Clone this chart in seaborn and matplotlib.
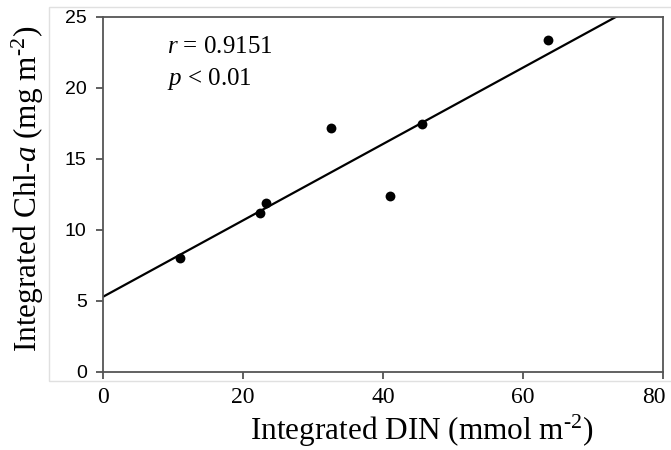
import matplotlib
matplotlib.use("Agg")
import matplotlib.pyplot as plt
import matplotlib.transforms as mtransforms
import seaborn as sns
import pandas as pd
from matplotlib.patches import Rectangle

# Data
din = [11.0, 22.4, 23.2, 32.6, 41.0, 45.6, 63.5]
chla = [8.0, 11.15, 11.86, 17.14, 12.4, 17.44, 23.34]
x_ticks = [0, 20, 40, 60, 80]
y_ticks = [0, 5, 10, 15, 20, 25]
stat_r = "0.9151"
stat_p = "0.01"

sns.set_theme(style="white")
plt.rcParams['font.family'] = ['Liberation Serif', 'DejaVu Serif']
plt.rcParams['mathtext.fontset'] = 'custom'
plt.rcParams['mathtext.rm'] = 'Liberation Serif'
plt.rcParams['mathtext.it'] = 'Liberation Serif:italic'
plt.rcParams['text.color'] = 'black'
plt.rcParams['axes.labelcolor'] = 'black'
plt.rcParams['xtick.color'] = 'black'
plt.rcParams['ytick.color'] = 'black'

df = pd.DataFrame({"DIN": din, "Chla": chla})

fig = plt.figure(figsize=(6.71, 4.5), dpi=100)
ax = fig.add_axes([0.154, 0.174, 0.834, 0.789])
ax.set_xlim(0, 80)
ax.set_ylim(0, 25)

sns.regplot(data=df, x="DIN", y="Chla", ax=ax, ci=None, truncate=False,
            scatter_kws=dict(color="black", s=50, linewidths=0, alpha=1, zorder=3),
            line_kws=dict(color="black", lw=1.6))
ax.set_xlim(0, 80)
ax.set_ylim(0, 25)

ax.set_xticks(x_ticks)
ax.set_yticks(y_ticks)
ax.set_xticklabels([str(v) for v in x_ticks], fontsize=17, family='Liberation Serif')
ax.set_yticklabels([str(v) for v in y_ticks], fontsize=14, family='Liberation Sans')
ax.tick_params(axis='both', direction='out', length=5, width=1.2,
               bottom=True, left=True)
ax.tick_params(axis='both', color='#444444')
ax.tick_params(axis='y', pad=7)
ax.tick_params(axis='x', pad=6)

# last x tick label sits slightly left of its tick in the reference
last = ax.get_xticklabels()[-1]
last.set_transform(last.get_transform() +
                   mtransforms.ScaledTranslation(-9 / 100, 0, fig.dpi_scale_trans))

for s in ax.spines.values():
    s.set_visible(True)
    s.set_color('#555555')
    s.set_linewidth(1.3)

ax.set_xlabel(r"Integrated DIN (mmol m$^{\text{-2}}$)", fontsize=22.5, labelpad=4)
ax.xaxis.set_label_coords(0.57, -0.115)
ax.set_ylabel(r"Integrated Chl-$\mathit{a}$ (mg m$^{\text{-2}}$)", fontsize=22.5)
ax.yaxis.set_label_coords(-0.102, 0.515)

ax.text(9.1, 22.44, r"$\mathit{r}$ = " + stat_r, fontsize=18)
ax.text(9.1, 20.19, r"$\mathit{p}$ < " + stat_p, fontsize=18)

# faint outer frame from the source screenshot
fig.add_artist(Rectangle((49 / 671, 1 - 381 / 450), 1 - 49 / 671 + 0.01, (381 - 7) / 450,
                         transform=fig.transFigure, fill=False, edgecolor='#e0e0e0',
                         linewidth=1.0, zorder=0))

fig.savefig("out.png", dpi=100)
